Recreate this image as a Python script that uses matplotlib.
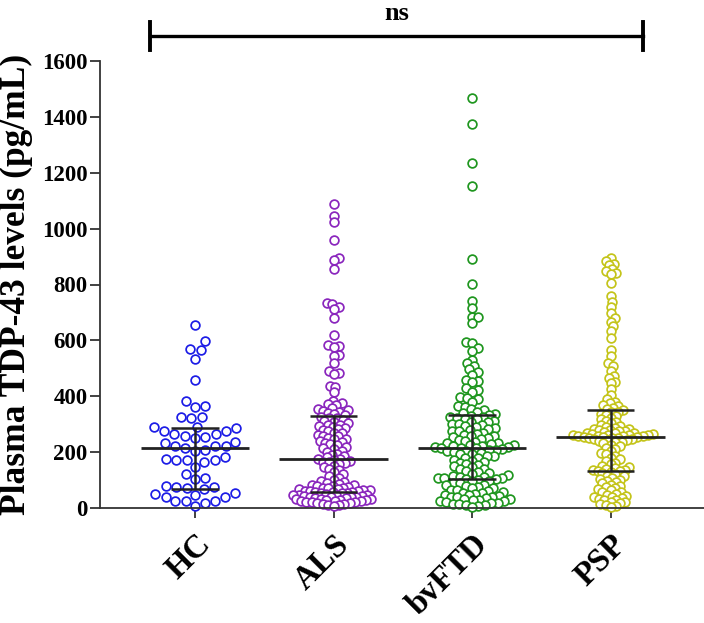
import numpy as np
import matplotlib
matplotlib.use('Agg')
import matplotlib.pyplot as plt

# ---------------- data ----------------
groups = ['HC', 'ALS', 'bvFTD', 'PSP']

hc = [655, 599, 565, 569, 533, 457, 384, 363, 365, 321, 327, 327, 289, 277, 289,
      277, 285, 265, 258, 265, 234, 223, 237, 223, 252, 255, 223, 205, 208, 216,
      175, 172, 184, 166, 172, 172, 148, 108, 104, 122, 80, 70, 76, 74, 67,
      40, 53, 47, 50, 40, 26, 26, 26, 19, 8]

als = [1089, 1045, 1024, 960, 895, 888, 855, 733, 730, 718, 711, 681, 620,
       583, 580, 577, 548, 544, 520, 491, 484, 478, 437, 434, 415, 384, 375, 372,
       369, 357, 353, 351, 348, 345, 341, 338, 334,
       327, 323, 321, 316, 311, 309, 304, 298, 297, 292, 289, 286, 281, 279, 275,
       270, 268, 263, 259, 257, 252, 248, 246, 240, 237, 233, 228, 226, 219, 214,
       212, 204, 201, 194, 190, 186, 181,
       176, 174, 172, 169, 166, 163, 160, 156, 152, 147, 141, 135, 128, 121, 114,
       108, 102, 97, 93, 89, 86, 84, 81, 79, 77, 75, 73, 71, 70, 68, 67, 65, 64,
       62, 61, 60, 59,
       57, 56, 54, 53, 52, 50, 48, 48, 47, 45, 44, 42, 41, 40, 38, 38, 36, 35, 33,
       33, 31, 30, 29, 27, 26, 25, 24, 22, 21, 20, 18, 17, 15, 13, 12, 10, 7]

bvftd = [1468, 1373, 1234, 1152, 891, 801, 742, 715, 685, 685, 661,
         595, 592, 572, 563, 530, 518, 508, 496, 488, 476, 458, 456, 452,
         428, 422, 416, 396, 393, 389, 380, 365, 363, 356, 349, 344, 340, 336, 333,
         331, 327, 326, 322, 319, 318, 313, 309, 307, 302, 300, 297, 292, 291, 286,
         284, 279, 276, 274, 269, 266, 263, 258, 256, 253, 249, 247, 242, 240, 238,
         233, 231, 229, 226, 224, 222, 221, 218, 217,
         216, 214, 213, 210, 209, 207, 204, 203, 199, 198, 194, 192, 187, 185, 180,
         178, 173, 170, 165, 162, 157, 154, 149, 146, 141, 138, 133, 130, 125, 122,
         117, 115, 112, 111, 108, 108, 106, 105, 104,
         102, 97, 95, 91, 88, 84, 82, 78, 76, 72, 70, 66, 64, 60, 58, 55, 53, 50,
         48, 45, 43, 41, 39, 38, 35, 33, 31, 30, 27, 25, 24, 21, 19, 18, 15, 13,
         12, 9, 7, 4]

psp = [894, 885, 873, 870, 854, 848, 840, 836, 806,
       759, 738, 720, 699, 679, 667, 651, 635, 610,
       565, 544, 518, 508, 491, 472, 464, 452, 446, 425, 404, 389, 380,
       375, 369, 364, 359, 354,
       349, 345, 342, 337, 333, 328, 323, 318, 313, 308, 303, 298, 294, 290, 287,
       284, 282, 280, 278, 276, 274, 272, 270, 268, 267, 265, 264, 263, 262, 261,
       260, 259, 258, 257, 256,
       255, 254, 253, 252, 250, 249, 247, 246, 244, 242, 240, 238, 235, 231, 227,
       222, 216, 210, 204, 198, 192, 186, 180, 174, 168, 162, 156, 150, 146, 142,
       140, 137, 136, 134, 133,
       130, 125, 122, 116, 113, 108, 105, 100, 97, 92, 88, 83, 80, 75, 72, 67, 64,
       59, 56, 51, 48, 44, 41, 38, 35, 32, 29, 27, 23, 21, 17, 14, 11, 8, 4]

medians = [215, 176, 216, 255]
q1 = [68, 58, 104, 132]
q3 = [287, 329, 332, 351]

colors = ['#1c1ce6', '#8a26bd', '#1f961f', '#c4c41a']
yticks = [0, 200, 400, 600, 800, 1000, 1200, 1400, 1600]
ylabel = 'Plasma TDP-43 levels (pg/mL)'
sig_text = 'ns'

# ---------------- layout ----------------
W, H = 704, 623
fig = plt.figure(figsize=(W / 100, H / 100), dpi=100)
ax_left, ax_right, ax_bottom, ax_top = 100, 704, 508, 61
ax = fig.add_axes([ax_left / W, 1 - ax_bottom / H, (ax_right - ax_left) / W,
                   (ax_bottom - ax_top) / H])
ymax = 1600
cat_px = 138.5
x0 = -(195 - ax_left) / cat_px
x1 = x0 + (ax_right - ax_left) / cat_px
ax.set_xlim(x0, x1)
ax.set_ylim(0, ymax)
ypp = (ax_bottom - ax_top) / ymax   # pixels per unit


def swarm(vals, d, maxhw):
    vals = np.asarray(vals, float)
    while True:
        order = np.argsort(vals)
        placed = []
        xs = np.zeros(len(vals))
        for i in order:
            y = vals[i] * ypp
            near = [(px, py) for px, py in placed if abs(py - y) < d]
            cands = [0.0]
            for px, py in near:
                dx = np.sqrt(max(d * d - (py - y) ** 2, 0))
                cands += [px + dx, px - dx]
            cands.sort(key=abs)
            chosen = 0.0
            for c in cands:
                if all((c - px) ** 2 + (y - py) ** 2 >= d * d - 1e-6 for px, py in near):
                    chosen = c
                    break
            placed.append((chosen, y))
            xs[i] = chosen
        if np.max(np.abs(xs)) <= maxhw or d < 3:
            return xs / cat_px
        d -= 0.25


data = [hc, als, bvftd, psp]
for i, (vals, col) in enumerate(zip(data, colors)):
    offs = swarm(vals, 10.5, 43)
    ax.plot(i + offs, vals, linestyle='none', marker='o', markersize=6.3,
            markerfacecolor='white', markeredgecolor=col, markeredgewidth=1.25,
            zorder=2, clip_on=False)
    ax.hlines(medians[i], i - 0.39, i + 0.39, color='#222222', lw=2.0, zorder=4)
    ax.vlines(i, q1[i], q3[i], color='#222222', lw=1.8, zorder=4)
    ax.hlines([q1[i], q3[i]], i - 0.17, i + 0.17, color='#222222', lw=1.8, zorder=4)

for s in ['top', 'right']:
    ax.spines[s].set_visible(False)
for s in ['left', 'bottom']:
    ax.spines[s].set_color('#333333')
    ax.spines[s].set_linewidth(1.3)

font = 'Liberation Serif'
ax.set_yticks(yticks)
ax.set_yticklabels([str(t) for t in yticks], fontfamily=font, fontweight='bold',
                   fontsize=16.5)
ax.set_xticks(range(len(groups)))
ax.set_xticklabels(groups, fontfamily=font, fontweight='bold', fontsize=23.5,
                   rotation=45, ha='right', rotation_mode='anchor')
ax.tick_params(axis='both', direction='out', length=7, width=1.3, color='#333333')
ax.tick_params(axis='y', pad=2)
ax.tick_params(axis='x', pad=8)

fig.text(16 / W, 1 - 284 / H, ylabel, rotation=90, ha='center', va='center',
         fontfamily=font, fontweight='bold', fontsize=25.5)

# significance bracket
bx0, bx1, by = 150 / W, 643 / W, 1 - 36 / H
cap = 14 / H
fig.add_artist(plt.Line2D([bx0, bx1], [by, by], transform=fig.transFigure,
                          color='black', lw=2.4))
for bx in (bx0, bx1):
    fig.add_artist(plt.Line2D([bx, bx], [by - cap, by + cap], transform=fig.transFigure,
                              color='black', lw=2.8))
fig.text((bx0 + bx1) / 2, 1 - 20 / H, sig_text, ha='center', va='baseline',
         fontfamily=font, fontweight='bold', fontsize=19)

fig.savefig('out.png', dpi=100)
